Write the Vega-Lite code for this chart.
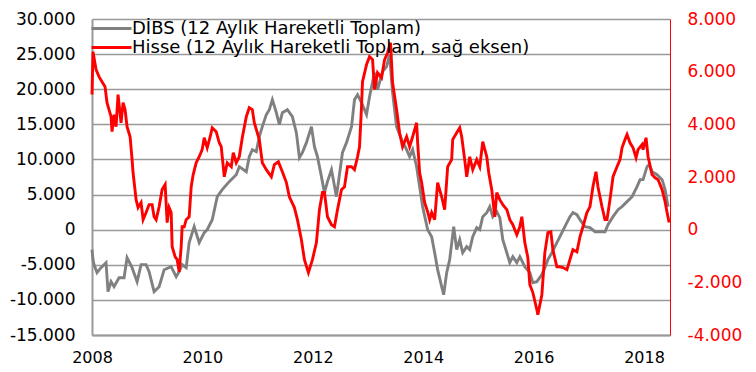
{
  "$schema": "https://vega.github.io/schema/vega-lite/v6.json",
  "width": 578,
  "height": 316,
  "autosize": {"type": "none"},
  "padding": {"left": 92, "top": 19, "right": 86, "bottom": 37},
  "background": "white",
  "config": {
    "view": {"stroke": null},
    "font": "DejaVu Sans",
    "axis": {"ticks": false, "title": null, "labelFont": "DejaVu Sans"}
  },
  "datasets": {
    "dibs": [
      {"yil":2008.000,"deger":-2850},{"yil":2008.018,"deger":-4270},{"yil":2008.036,"deger":-4980},{"yil":2008.091,"deger":-6120},{"yil":2008.163,"deger":-5410},{"yil":2008.254,"deger":-4700},{"yil":2008.290,"deger":-8830},{"yil":2008.345,"deger":-7400},{"yil":2008.399,"deger":-8120},{"yil":2008.490,"deger":-6840},{"yil":2008.581,"deger":-6840},{"yil":2008.635,"deger":-3990},{"yil":2008.726,"deger":-5410},{"yil":2008.817,"deger":-7400},{"yil":2008.889,"deger":-4980},{"yil":2008.980,"deger":-4980},{"yil":2009.034,"deger":-5980},{"yil":2009.125,"deger":-8830},{"yil":2009.216,"deger":-8120},{"yil":2009.307,"deger":-5700},{"yil":2009.434,"deger":-5270},{"yil":2009.525,"deger":-6690},{"yil":2009.579,"deger":-5980},{"yil":2009.633,"deger":-4980},{"yil":2009.706,"deger":-5410},{"yil":2009.760,"deger":-1850},{"yil":2009.851,"deger":430},{"yil":2009.942,"deger":-1850},{"yil":2010.033,"deger":-430},{"yil":2010.087,"deger":0},{"yil":2010.178,"deger":1420},{"yil":2010.269,"deger":4700},{"yil":2010.359,"deger":5700},{"yil":2010.486,"deger":6840},{"yil":2010.613,"deger":7830},{"yil":2010.668,"deger":8970},{"yil":2010.795,"deger":8260},{"yil":2010.849,"deger":10400},{"yil":2010.904,"deger":11390},{"yil":2010.976,"deger":11110},{"yil":2011.031,"deger":13240},{"yil":2011.085,"deger":14670},{"yil":2011.158,"deger":16380},{"yil":2011.212,"deger":17090},{"yil":2011.267,"deger":18510},{"yil":2011.339,"deger":16660},{"yil":2011.394,"deger":14950},{"yil":2011.448,"deger":16660},{"yil":2011.539,"deger":17090},{"yil":2011.630,"deger":16090},{"yil":2011.702,"deger":13810},{"yil":2011.757,"deger":10250},{"yil":2011.811,"deger":10970},{"yil":2011.884,"deger":12390},{"yil":2011.975,"deger":14670},{"yil":2012.029,"deger":11820},{"yil":2012.084,"deger":10400},{"yil":2012.156,"deger":7550},{"yil":2012.211,"deger":5270},{"yil":2012.265,"deger":6840},{"yil":2012.338,"deger":8540},{"yil":2012.428,"deger":4700},{"yil":2012.537,"deger":10970},{"yil":2012.610,"deger":12390},{"yil":2012.701,"deger":14670},{"yil":2012.755,"deger":18510},{"yil":2012.810,"deger":19220},{"yil":2012.882,"deger":18090},{"yil":2012.973,"deger":16380},{"yil":2013.027,"deger":18940},{"yil":2013.118,"deger":22360},{"yil":2013.172,"deger":19940},{"yil":2013.263,"deger":22500},{"yil":2013.336,"deger":23210},{"yil":2013.390,"deger":24920},{"yil":2013.445,"deger":19510},{"yil":2013.517,"deger":14670},{"yil":2013.608,"deger":12820},{"yil":2013.699,"deger":11390},{"yil":2013.753,"deger":10400},{"yil":2013.808,"deger":11390},{"yil":2013.880,"deger":8970},{"yil":2013.935,"deger":6120},{"yil":2013.989,"deger":3280},{"yil":2014.080,"deger":0},{"yil":2014.153,"deger":-1000},{"yil":2014.207,"deger":-3280},{"yil":2014.261,"deger":-5700},{"yil":2014.334,"deger":-8120},{"yil":2014.370,"deger":-9260},{"yil":2014.425,"deger":-6120},{"yil":2014.479,"deger":-4270},{"yil":2014.552,"deger":430},{"yil":2014.606,"deger":-2850},{"yil":2014.661,"deger":-1420},{"yil":2014.715,"deger":-3280},{"yil":2014.788,"deger":-2420},{"yil":2014.842,"deger":-2850},{"yil":2014.897,"deger":-1000},{"yil":2014.969,"deger":290},{"yil":2015.024,"deger":0},{"yil":2015.078,"deger":1850},{"yil":2015.151,"deger":2420},{"yil":2015.205,"deger":3280},{"yil":2015.260,"deger":1850},{"yil":2015.332,"deger":2560},{"yil":2015.387,"deger":1710},{"yil":2015.441,"deger":-1420},{"yil":2015.514,"deger":-3280},{"yil":2015.568,"deger":-4700},{"yil":2015.623,"deger":-3850},{"yil":2015.695,"deger":-4700},{"yil":2015.750,"deger":-3850},{"yil":2015.840,"deger":-5270},{"yil":2015.931,"deger":-6120},{"yil":2015.986,"deger":-7550},{"yil":2016.058,"deger":-7400},{"yil":2016.149,"deger":-6410},{"yil":2016.203,"deger":-5410},{"yil":2016.258,"deger":-4270},{"yil":2016.330,"deger":-3280},{"yil":2016.421,"deger":-1850},{"yil":2016.476,"deger":-1000},{"yil":2016.566,"deger":430},{"yil":2016.657,"deger":1850},{"yil":2016.712,"deger":2420},{"yil":2016.784,"deger":2140},{"yil":2016.839,"deger":1420},{"yil":2016.929,"deger":430},{"yil":2017.020,"deger":290},{"yil":2017.111,"deger":-290},{"yil":2017.202,"deger":-290},{"yil":2017.293,"deger":-290},{"yil":2017.347,"deger":710},{"yil":2017.438,"deger":1850},{"yil":2017.529,"deger":2850},{"yil":2017.601,"deger":3280},{"yil":2017.692,"deger":3990},{"yil":2017.783,"deger":4700},{"yil":2017.873,"deger":6120},{"yil":2017.928,"deger":7120},{"yil":2017.982,"deger":7120},{"yil":2018.054,"deger":8970},{"yil":2018.091,"deger":9260},{"yil":2018.145,"deger":8260},{"yil":2018.236,"deger":7830},{"yil":2018.327,"deger":7120},{"yil":2018.381,"deger":5700},{"yil":2018.436,"deger":3280}
    ],
    "hisse": [
      {"yil":2008.000,"deger":5130},{"yil":2008.018,"deger":6760},{"yil":2008.073,"deger":6080},{"yil":2008.127,"deger":5810},{"yil":2008.181,"deger":5620},{"yil":2008.236,"deger":5430},{"yil":2008.272,"deger":4820},{"yil":2008.345,"deger":4290},{"yil":2008.363,"deger":3720},{"yil":2008.399,"deger":4370},{"yil":2008.436,"deger":3910},{"yil":2008.472,"deger":5130},{"yil":2008.526,"deger":4060},{"yil":2008.563,"deger":4820},{"yil":2008.599,"deger":4560},{"yil":2008.635,"deger":3910},{"yil":2008.690,"deger":3530},{"yil":2008.726,"deger":2660},{"yil":2008.744,"deger":2160},{"yil":2008.799,"deger":1140},{"yil":2008.835,"deger":840},{"yil":2008.889,"deger":1030},{"yil":2008.926,"deger":380},{"yil":2008.980,"deger":650},{"yil":2009.034,"deger":950},{"yil":2009.089,"deger":950},{"yil":2009.125,"deger":490},{"yil":2009.162,"deger":380},{"yil":2009.216,"deger":870},{"yil":2009.270,"deger":1520},{"yil":2009.325,"deger":1710},{"yil":2009.361,"deger":270},{"yil":2009.397,"deger":840},{"yil":2009.434,"deger":650},{"yil":2009.452,"deger":-650},{"yil":2009.506,"deger":-1030},{"yil":2009.543,"deger":-1140},{"yil":2009.579,"deger":-1600},{"yil":2009.615,"deger":-650},{"yil":2009.633,"deger":110},{"yil":2009.670,"deger":110},{"yil":2009.706,"deger":380},{"yil":2009.760,"deger":490},{"yil":2009.797,"deger":1630},{"yil":2009.833,"deger":2090},{"yil":2009.887,"deger":2540},{"yil":2009.942,"deger":2770},{"yil":2009.996,"deger":3040},{"yil":2010.033,"deger":3490},{"yil":2010.087,"deger":3110},{"yil":2010.141,"deger":3530},{"yil":2010.178,"deger":3870},{"yil":2010.250,"deger":3720},{"yil":2010.305,"deger":3300},{"yil":2010.341,"deger":3150},{"yil":2010.396,"deger":2010},{"yil":2010.450,"deger":2540},{"yil":2010.523,"deger":2390},{"yil":2010.559,"deger":2920},{"yil":2010.613,"deger":2540},{"yil":2010.668,"deger":2770},{"yil":2010.722,"deger":3490},{"yil":2010.795,"deger":4290},{"yil":2010.849,"deger":4630},{"yil":2010.904,"deger":4560},{"yil":2010.940,"deger":4060},{"yil":2011.031,"deger":3420},{"yil":2011.085,"deger":2540},{"yil":2011.158,"deger":2280},{"yil":2011.249,"deger":2010},{"yil":2011.303,"deger":2470},{"yil":2011.376,"deger":2580},{"yil":2011.448,"deger":2200},{"yil":2011.521,"deger":1790},{"yil":2011.575,"deger":1250},{"yil":2011.666,"deger":840},{"yil":2011.721,"deger":380},{"yil":2011.793,"deger":-380},{"yil":2011.848,"deger":-1140},{"yil":2011.920,"deger":-1630},{"yil":2011.993,"deger":-1140},{"yil":2012.065,"deger":-490},{"yil":2012.120,"deger":760},{"yil":2012.174,"deger":1410},{"yil":2012.211,"deger":1410},{"yil":2012.265,"deger":490},{"yil":2012.338,"deger":190},{"yil":2012.392,"deger":110},{"yil":2012.447,"deger":760},{"yil":2012.519,"deger":1520},{"yil":2012.574,"deger":1630},{"yil":2012.628,"deger":2390},{"yil":2012.701,"deger":2390},{"yil":2012.755,"deger":2280},{"yil":2012.810,"deger":2770},{"yil":2012.846,"deger":3150},{"yil":2012.882,"deger":4670},{"yil":2012.900,"deger":5620},{"yil":2012.973,"deger":6270},{"yil":2013.027,"deger":6570},{"yil":2013.082,"deger":6460},{"yil":2013.118,"deger":5320},{"yil":2013.172,"deger":5960},{"yil":2013.245,"deger":5770},{"yil":2013.300,"deger":6460},{"yil":2013.354,"deger":6720},{"yil":2013.408,"deger":7100},{"yil":2013.445,"deger":5580},{"yil":2013.517,"deger":4560},{"yil":2013.572,"deger":3680},{"yil":2013.626,"deger":3150},{"yil":2013.699,"deger":3530},{"yil":2013.753,"deger":3150},{"yil":2013.808,"deger":3530},{"yil":2013.880,"deger":4060},{"yil":2013.899,"deger":3300},{"yil":2013.935,"deger":2160},{"yil":2013.971,"deger":1790},{"yil":2014.025,"deger":1030},{"yil":2014.080,"deger":680},{"yil":2014.116,"deger":380},{"yil":2014.153,"deger":650},{"yil":2014.207,"deger":380},{"yil":2014.261,"deger":1790},{"yil":2014.334,"deger":1250},{"yil":2014.388,"deger":760},{"yil":2014.443,"deger":2390},{"yil":2014.515,"deger":2660},{"yil":2014.534,"deger":3420},{"yil":2014.606,"deger":3680},{"yil":2014.661,"deger":3870},{"yil":2014.697,"deger":3530},{"yil":2014.751,"deger":2660},{"yil":2014.788,"deger":2010},{"yil":2014.842,"deger":2770},{"yil":2014.897,"deger":2280},{"yil":2014.969,"deger":2660},{"yil":2015.024,"deger":2390},{"yil":2015.078,"deger":3340},{"yil":2015.151,"deger":2770},{"yil":2015.187,"deger":2160},{"yil":2015.241,"deger":1520},{"yil":2015.296,"deger":490},{"yil":2015.332,"deger":1410},{"yil":2015.387,"deger":1140},{"yil":2015.441,"deger":950},{"yil":2015.514,"deger":760},{"yil":2015.568,"deger":380},{"yil":2015.623,"deger":190},{"yil":2015.695,"deger":-190},{"yil":2015.750,"deger":110},{"yil":2015.786,"deger":490},{"yil":2015.840,"deger":-490},{"yil":2015.895,"deger":-1060},{"yil":2015.931,"deger":-2090},{"yil":2015.986,"deger":-2390},{"yil":2016.058,"deger":-3040},{"yil":2016.076,"deger":-3230},{"yil":2016.149,"deger":-2470},{"yil":2016.203,"deger":-870},{"yil":2016.258,"deger":-110},{"yil":2016.312,"deger":-80},{"yil":2016.348,"deger":-760},{"yil":2016.421,"deger":-1410},{"yil":2016.476,"deger":-1410},{"yil":2016.530,"deger":-1440},{"yil":2016.603,"deger":-1520},{"yil":2016.657,"deger":-1140},{"yil":2016.712,"deger":-760},{"yil":2016.784,"deger":-840},{"yil":2016.839,"deger":-270},{"yil":2016.893,"deger":110},{"yil":2016.965,"deger":650},{"yil":2017.020,"deger":870},{"yil":2017.074,"deger":1630},{"yil":2017.129,"deger":2200},{"yil":2017.165,"deger":1630},{"yil":2017.238,"deger":870},{"yil":2017.292,"deger":380},{"yil":2017.329,"deger":380},{"yil":2017.383,"deger":1140},{"yil":2017.438,"deger":2010},{"yil":2017.510,"deger":2390},{"yil":2017.565,"deger":2660},{"yil":2017.601,"deger":3110},{"yil":2017.655,"deger":3420},{"yil":2017.692,"deger":3610},{"yil":2017.746,"deger":3300},{"yil":2017.801,"deger":3110},{"yil":2017.855,"deger":2730},{"yil":2017.891,"deger":3040},{"yil":2017.964,"deger":3230},{"yil":2017.982,"deger":3040},{"yil":2018.036,"deger":3490},{"yil":2018.073,"deger":2770},{"yil":2018.145,"deger":2090},{"yil":2018.200,"deger":1970},{"yil":2018.254,"deger":1900},{"yil":2018.327,"deger":1520},{"yil":2018.381,"deger":1060},{"yil":2018.417,"deger":650},{"yil":2018.454,"deger":270}
    ]
  },
  "layer": [
    {
      "data": {"name": "dibs"},
      "mark": {"type": "line", "strokeWidth": 2.9},
      "encoding": {
        "x": {
          "field": "yil", "type": "quantitative",
          "scale": {"domain": [2008, 2018.47], "nice": false, "zero": false},
          "axis": {
            "values": [2008, 2010, 2012, 2014, 2016, 2018],
            "format": "d",
            "labelFontSize": 16,
            "labelFlush": false,
            "labelOverlap": false,
            "grid": false,
            "domainColor": "#999999",
            "domainWidth": 2,
            "labelPadding": 14,
            "labelColor": "black"
          }
        },
        "y": {
          "field": "deger", "type": "quantitative",
          "scale": {"domain": [-15000, 30000], "nice": false, "zero": false},
          "axis": {
            "orient": "left",
            "values": [-15000, -10000, -5000, 0, 5000, 10000, 15000, 20000, 25000, 30000],
            "labelExpr": "(datum.value < 0 ? '-' : '') + replace(format(abs(datum.value), ','), ',', '.')",
            "grid": true,
            "gridColor": "#999999",
            "gridWidth": 1.5,
            "domainColor": "#999999",
            "domainWidth": 2,
            "labelFontSize": 17,
            "labelPadding": 17,
            "labelColor": "black"
          }
        },
        "color": {
          "datum": "DİBS (12 Aylık Hareketli Toplam)",
          "type": "nominal",
          "scale": {
            "domain": ["DİBS (12 Aylık Hareketli Toplam)", "Hisse (12 Aylık Hareketli Toplam, sağ eksen)"],
            "range": ["#808080", "#ff0000"]
          },
          "legend": {
            "title": null,
            "orient": "none",
            "legendX": 10,
            "legendY": 0,
            "direction": "vertical",
            "symbolType": "M-2.5,0H2.5",
            "symbolSize": 256,
            "symbolStrokeWidth": 3,
            "labelFontSize": 18,
            "labelFont": "DejaVu Sans",
            "labelColor": "black",
            "labelLimit": 700,
            "labelOffset": 11,
            "rowPadding": -4,
            "padding": 0
          }
        }
      }
    },
    {
      "data": {"name": "hisse"},
      "mark": {"type": "line", "strokeWidth": 2.9},
      "encoding": {
        "x": {"field": "yil", "type": "quantitative"},
        "y": {
          "field": "deger", "type": "quantitative",
          "scale": {"domain": [-4000, 8000], "nice": false, "zero": false},
          "axis": {
            "orient": "right",
            "values": [-4000, -2000, 0, 2000, 4000, 6000, 8000],
            "labelExpr": "(datum.value < 0 ? '-' : '') + replace(format(abs(datum.value), ','), ',', '.')",
            "grid": false,
            "domainColor": "#ff0000",
            "domainWidth": 1,
            "labelFontSize": 17,
            "labelPadding": 17,
            "labelColor": "#ff0000"
          }
        },
        "color": {"datum": "Hisse (12 Aylık Hareketli Toplam, sağ eksen)", "type": "nominal"}
      }
    }
  ],
  "resolve": {"scale": {"y": "independent"}}
}
